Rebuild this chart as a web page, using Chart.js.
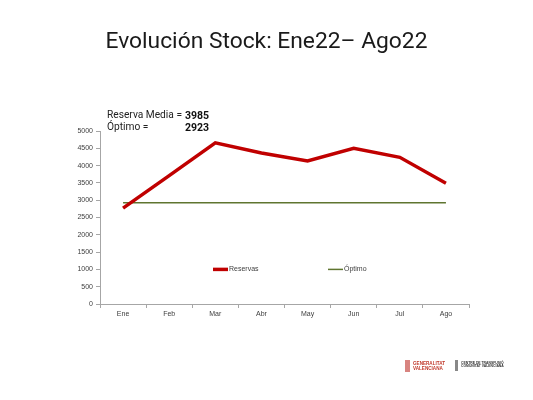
<!DOCTYPE html>
<html>
<head>
<meta charset="utf-8">
<script src="https://cdn.jsdelivr.net/npm/chart.js@4/dist/chart.umd.min.js"></script>
<style>
  body { margin: 0; background: #fff; }
  #wrap { position: relative; width: 533px; height: 400px; overflow: hidden; }
  #chart { position: absolute; left: 0; top: 0; }
  .title { position: absolute; left: 0; width: 533px; top: 27px; text-align: center;
           font-family: Roboto, sans-serif; font-size: 22.8px; color: #1a1a1a; }
  .note { position: absolute; width: 102px; font-family: Roboto, sans-serif; font-size: 10.2px; color: #222; }
  .note b { position: absolute; right: 0; top: 0; font-weight: bold; color: #111; font-size: 10.5px; }
  .logo { position: absolute; font-family: "Liberation Sans", sans-serif; line-height: 1; }
</style>
</head>
<body>
<div id="wrap">
  <canvas id="chart" width="533" height="400"></canvas>
  <div class="title">Evolución Stock: Ene22– Ago22</div>
  <div class="note" style="left:107px; top:109px;">Reserva Media =<b>3985</b></div>
  <div class="note" style="left:107px; top:121px;">Óptimo =<b>2923</b></div>
  <div class="logo" style="left:405px; top:360px; width:5px; height:12px; background:#c8504a; opacity:0.7;"></div>
  <div class="logo" style="left:413px; top:362px; font-size:4.6px; color:#c0392b; font-weight:bold;">GENERALITAT<br>VALENCIANA</div>
  <div class="logo" style="left:455px; top:360px; width:3px; height:11px; background:#555; opacity:0.7;"></div>
  <div class="logo" style="left:461px; top:362px; font-size:3.4px; color:#333; font-weight:bold;">CENTRE DE TRANSFUSIÓ<br>COMUNITAT VALENCIANA</div>
</div>
<script>
// meses del periodo
const months = ['Ene', 'Feb', 'Mar', 'Abr', 'May', 'Jun', 'Jul', 'Ago'];
// stock de reservas
const reservas = [2770, 3710, 4660, 4365, 4135, 4500, 4240, 3490];
// nivel optimo (constante)
const optimo = [2923, 2923, 2923, 2923, 2923, 2923, 2923, 2923];
const yTicks = [0, 500, 1000, 1500, 2000, 2500, 3000, 3500, 4000, 4500, 5000];

const axisColor = '#a6a6a6';
const tickFont = { family: 'Liberation Sans', size: 7 };

// leyenda dibujada dentro del area del grafico
const insideLegend = {
  id: 'insideLegend',
  afterDraw(chart) {
    const ctx = chart.ctx;
    const y = chart.scales.y.getPixelForValue(1000);
    const items = [
      { x: 213, text: 'Reservas', ds: chart.data.datasets[0] },
      { x: 328, text: 'Óptimo', ds: chart.data.datasets[1] }
    ];
    ctx.save();
    ctx.font = '7px "Liberation Sans"';
    ctx.textBaseline = 'middle';
    items.forEach(it => {
      ctx.strokeStyle = it.ds.borderColor;
      ctx.lineWidth = it.ds.borderWidth;
      ctx.beginPath();
      ctx.moveTo(it.x, y);
      ctx.lineTo(it.x + 15, y);
      ctx.stroke();
      ctx.fillStyle = '#404040';
      ctx.fillText(it.text, it.x + 16, y);
    });
    ctx.restore();
  }
};

new Chart(document.getElementById('chart'), {
  type: 'line',
  data: {
    labels: months,
    datasets: [{
      label: 'Reservas',
      data: reservas,
      borderColor: '#c00000',
      borderWidth: 3.5,
      pointRadius: 0,
      tension: 0
    }, {
      label: 'Óptimo',
      data: optimo,
      borderColor: '#5f7530',
      borderWidth: 1.5,
      pointRadius: 0,
      tension: 0
    }]
  },
  options: {
    responsive: false,
    animation: false,
    layout: { padding: { left: 70, right: 64, top: 131, bottom: 71 } },
    plugins: {
      legend: { display: false },
      tooltip: { enabled: false }
    },
    scales: {
      x: {
        offset: true,
        afterFit: s => { s.height = 25; },
        grid: { offset: true, drawOnChartArea: false, color: axisColor, tickLength: 4 },
        border: { color: axisColor },
        ticks: { color: '#404040', font: tickFont, padding: 2 }
      },
      y: {
        min: 0,
        max: 5000,
        afterFit: s => { s.width = 30; },
        afterBuildTicks: s => { s.ticks = yTicks.map(v => ({ value: v })); },
        grid: { drawOnChartArea: false, color: axisColor, tickLength: 4 },
        border: { color: axisColor },
        ticks: { color: '#404040', font: tickFont, padding: 3, callback: v => String(v) }
      }
    }
  },
  plugins: [insideLegend]
});
</script>
</body>
</html>
